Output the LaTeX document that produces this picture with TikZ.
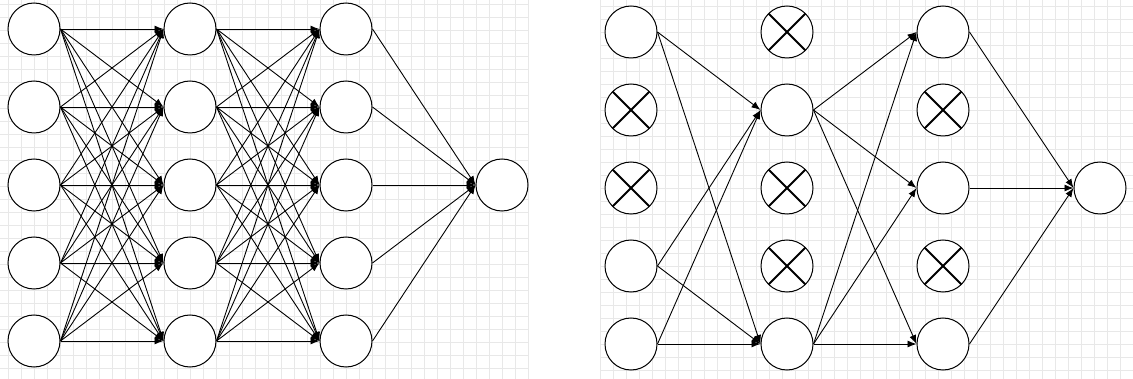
\documentclass[tikz,border=0pt]{standalone}
\usetikzlibrary{arrows.meta}
\begin{document}
\begin{tikzpicture}[x=1pt,y=-1pt,
  neuron/.style={circle,draw=black,line width=1pt,fill=white,minimum size=52pt,inner sep=0pt},
  dropped/.style={neuron,path picture={
     \draw[line width=2pt] ([shift={(-20pt,-20pt)}]path picture bounding box.center) -- ([shift={(20pt,20pt)}]path picture bounding box.center);
     \draw[line width=2pt] ([shift={(-20pt,20pt)}]path picture bounding box.center) -- ([shift={(20pt,-20pt)}]path picture bounding box.center);}},
  conn/.style={line width=0.9pt,-{Latex[length=9pt,width=7pt]}},
  gridline/.style={draw=gray!18,line width=0.5pt}]
\useasboundingbox (0,0) rectangle (1133,379);
% faint background grid
\foreach \x in {8,21,...,528} \draw[gridline] (\x,0) -- (\x,379);
\foreach \y in {4,17,...,379} \draw[gridline] (0,\y) -- (528,\y);
\foreach \x in {600,613,...,1133} \draw[gridline] (\x,0) -- (\x,379);
\foreach \y in {6,19,...,379} \draw[gridline] (600,\y) -- (1133,\y);
% ---------- left network ----------
\foreach \i [evaluate=\i as \yy using 29+78*(\i-1)] in {1,...,5}{
  \node[neuron] (L1\i) at (34,\yy) {};
  \node[neuron] (L2\i) at (190,\yy) {};
  \node[neuron] (L3\i) at (346,\yy) {};
}
\node[neuron] (LO) at (502,185) {};
\foreach \i in {1,...,5}{
  \foreach \j in {1,...,5}{
    \draw[conn] (L1\i.east) -- (L2\j.west);
    \draw[conn] (L2\i.east) -- (L3\j.west);
  }
  \draw[conn] (L3\i.east) -- (LO.west);
}
% ---------- right network ----------
\node[neuron]  (A1) at (631,32) {};
\node[dropped] (A2) at (631,110) {};
\node[dropped] (A3) at (631,188) {};
\node[neuron]  (A4) at (631,266) {};
\node[neuron]  (A5) at (631,344) {};
\node[dropped] (B1) at (787,32) {};
\node[neuron]  (B2) at (787,110) {};
\node[dropped] (B3) at (787,188) {};
\node[dropped] (B4) at (787,266) {};
\node[neuron]  (B5) at (787,344) {};
\node[neuron]  (C1) at (943,32) {};
\node[dropped] (C2) at (943,110) {};
\node[neuron]  (C3) at (943,188) {};
\node[dropped] (C4) at (943,266) {};
\node[neuron]  (C5) at (943,344) {};
\node[neuron]  (RO) at (1100,188) {};
\foreach \a in {A1,A4,A5}{
  \foreach \b in {B2,B5} \draw[conn] (\a.east) -- (\b.west);
}
\foreach \b in {B2,B5}{
  \foreach \c in {C1,C3,C5} \draw[conn] (\b.east) -- (\c.west);
}
\foreach \c in {C1,C3,C5} \draw[conn] (\c.east) -- (RO.west);
\end{tikzpicture}
\end{document}
